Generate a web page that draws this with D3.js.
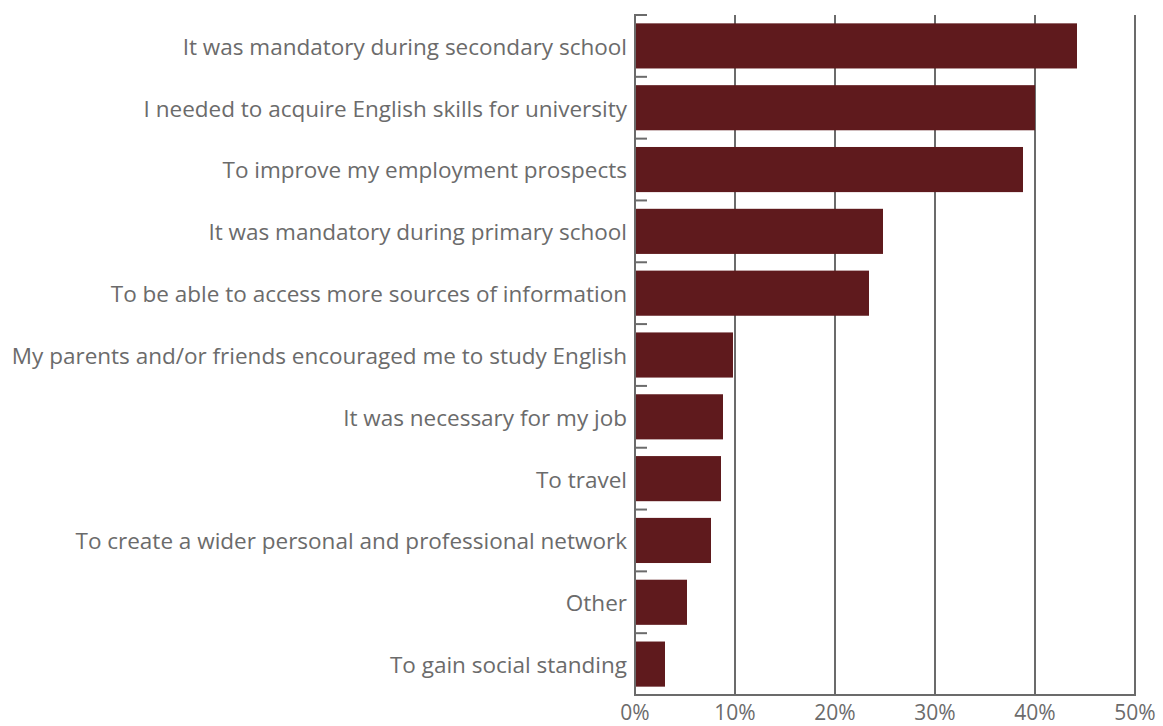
<!DOCTYPE html>
<html><head><meta charset="utf-8">
<script src="https://cdn.jsdelivr.net/npm/d3@7"></script>
<style>body{margin:0;background:#fff}svg{display:block}</style>
</head><body><svg id="c" width="1163" height="726"></svg>
<script>
const categories = [
  "It was mandatory during secondary school",
  "I needed to acquire English skills for university",
  "To improve my employment prospects",
  "It was mandatory during primary school",
  "To be able to access more sources of information",
  "My parents and/or friends encouraged me to study English",
  "It was necessary for my job",
  "To travel",
  "To create a wider personal and professional network",
  "Other",
  "To gain social standing"
];
const values = [44.2, 40.0, 38.8, 24.8, 23.4, 9.8, 8.8, 8.6, 7.6, 5.2, 3.0];
const tickValues = [0, 10, 20, 30, 40, 50];

const svg = d3.select("#c");
const m = {left: 635, right: 1135, top: 15, bottom: 695};
const font = "'Open Sans', sans-serif";
const gray = "#6b6b6b";
const x = d3.scaleLinear().domain([0, 50]).range([m.left, m.right]);
const y = d3.scaleBand().domain(categories).range([m.top, m.bottom]).paddingInner(0.27).paddingOuter(0.135);
const yb = d3.scaleBand().domain(categories).range([m.top, m.bottom]);

// gridlines
svg.append("g").selectAll("line").data(tickValues.slice(1)).join("line")
  .attr("x1", d => x(d)).attr("x2", d => x(d)).attr("y1", m.top).attr("y2", m.bottom)
  .attr("stroke", gray).attr("stroke-width", 2);

// bars
svg.append("g").selectAll("rect").data(values).join("rect")
  .attr("x", x(0)).attr("y", (d, i) => y(categories[i]))
  .attr("width", d => x(d) - x(0)).attr("height", y.bandwidth())
  .attr("fill", "#5f1a1d");

// left axis line and boundary ticks
const bounds = categories.map(c => yb(c));
svg.append("g").selectAll("line").data(bounds).join("line")
  .attr("x1", m.left).attr("x2", m.left + 12).attr("y1", d => d).attr("y2", d => d)
  .attr("stroke", gray).attr("stroke-width", 2);
svg.append("line").attr("x1", m.left).attr("x2", m.left).attr("y1", m.top - 1).attr("y2", m.bottom + 1)
  .attr("stroke", gray).attr("stroke-width", 2);
svg.append("line").attr("x1", m.left).attr("x2", m.right + 1).attr("y1", m.bottom).attr("y2", m.bottom)
  .attr("stroke", gray).attr("stroke-width", 2);

// category labels
svg.append("g").selectAll("text").data(categories).join("text")
  .attr("x", m.left - 8).attr("y", d => yb(d) + yb.bandwidth() / 2 + 1)
  .attr("dy", "0.35em").attr("text-anchor", "end")
  .attr("font-family", font).attr("font-size", 22.5).attr("fill", gray)
  .text(d => d);

// x tick labels
svg.append("g").selectAll("text").data(tickValues).join("text")
  .attr("x", d => x(d)).attr("y", 720)
  .attr("text-anchor", "middle")
  .attr("font-family", font).attr("font-size", 21).attr("fill", gray)
  .text(d => d + "%");
</script></body></html>
